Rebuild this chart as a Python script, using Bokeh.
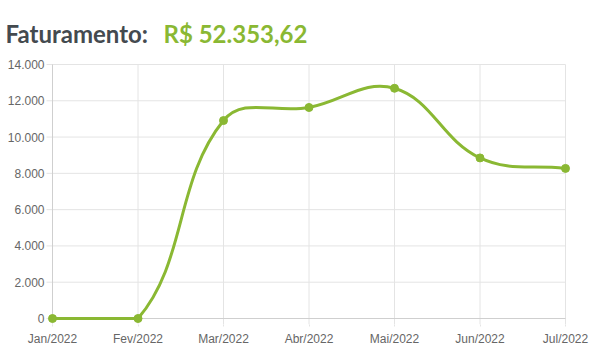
import numpy as np
from bokeh.plotting import figure
from bokeh.models import FixedTicker, Range1d, ColumnDataSource
from bokeh.core.properties import value
from bokeh.embed import file_html
from bokeh.resources import INLINE

months = ["Jan/2022", "Fev/2022", "Mar/2022", "Abr/2022", "Mai/2022", "Jun/2022", "Jul/2022"]
revenue = [0, 0, 10910, 11630, 12690, 8850, 8273.62]
y_ticks = [0, 2000, 4000, 6000, 8000, 10000, 12000, 14000]
y_tick_labels = ["0", "2.000", "4.000", "6.000", "8.000", "10.000", "12.000", "14.000"]
title_label = "Faturamento:"
total_label = "R$ 52.353,62"

GREEN = "#8ab833"
GRID = "#e4e4e4"
TXT = "#666666"

W, H = 614, 364
AL, AR, AT, AB = 52, 565, 64, 318   # chart area in page pixels
PAD = 6
ymax = 14000.0
nx = len(months) - 1
sx = (AR - AL) / nx
sy = (AB - AT) / ymax

def dx(cx):
    return (cx - AL) / sx

def dy(cy):
    return (AB - cy) / sy

# frame spans the page width and from the page top, so heading and y labels are glyphs
p = figure(width=W, height=H, output_backend="svg", toolbar_location=None,
           min_border_left=0, min_border_right=0,
           min_border_top=0, min_border_bottom=H - AB - PAD,
           x_range=Range1d(dx(0), dx(W)), y_range=Range1d(dy(AB + PAD), dy(0)))
p.outline_line_color = None
p.background_fill_color = "white"
p.border_fill_color = "white"

x = np.arange(len(months), dtype=float)
y = np.array(revenue, dtype=float)

# Chart.js-like spline (tension 0.4), computed in pixel space
fw = AR - AL
fh = AB - AT
px, py = x * sx, y * sy
n = len(px)
cp_prev = np.zeros((n, 2))
cp_next = np.zeros((n, 2))
t = 0.4
for i in range(n):
    pi = i - 1 if i > 0 else i
    ni = i + 1 if i < n - 1 else i
    d01 = np.hypot(px[i] - px[pi], py[i] - py[pi])
    d12 = np.hypot(px[ni] - px[i], py[ni] - py[i])
    tot = d01 + d12
    s01 = d01 / tot if tot else 0
    s12 = d12 / tot if tot else 0
    fa, fb = t * s01, t * s12
    cp_prev[i] = [px[i] - fa * (px[ni] - px[pi]), py[i] - fa * (py[ni] - py[pi])]
    cp_next[i] = [px[i] + fb * (px[ni] - px[pi]), py[i] + fb * (py[ni] - py[pi])]
cp_prev[:, 1] = np.clip(cp_prev[:, 1], 0, fh)
cp_next[:, 1] = np.clip(cp_next[:, 1], 0, fh)
cp_prev[:, 0] = np.clip(cp_prev[:, 0], 0, fw)
cp_next[:, 0] = np.clip(cp_next[:, 0], 0, fw)

src = ColumnDataSource(dict(
    x0=x[:-1], y0=y[:-1], x1=x[1:], y1=y[1:],
    cx0=cp_next[:-1, 0] / sx, cy0=cp_next[:-1, 1] / sy,
    cx1=cp_prev[1:, 0] / sx, cy1=cp_prev[1:, 1] / sy,
))

# grid (drawn as segments, bounded to the chart area plus short tick stubs)
p.xgrid.visible = False
p.ygrid.visible = False
yt = np.array(y_ticks, dtype=float)
p.segment(x0=x, y0=np.full(n, dy(AB + PAD)), x1=x, y1=np.full(n, ymax), line_color=GRID, line_width=1)
p.segment(x0=np.full(len(yt), dx(AL - 6)), y0=yt, x1=np.full(len(yt), nx), y1=yt,
          line_color=GRID, line_width=1)
p.segment(x0=[0], y0=[0], x1=[nx], y1=[0], line_color="#cfcfcf", line_width=1)
p.segment(x0=[0], y0=[0], x1=[0], y1=[ymax], line_color="#cfcfcf", line_width=1)

p.bezier(x0="x0", y0="y0", x1="x1", y1="y1", cx0="cx0", cy0="cy0", cx1="cx1", cy1="cy1",
         source=src, line_color=GREEN, line_width=3)
p.scatter(x, y, size=8, fill_color=GREEN, line_color=GREEN)

# x axis
p.yaxis.visible = False
p.xaxis.ticker = FixedTicker(ticks=list(range(len(months))))
p.xaxis.major_label_overrides = {i: m for i, m in enumerate(months)}
p.xaxis.axis_line_color = None
p.xaxis.major_tick_line_color = GRID
p.xaxis.major_tick_in = 0
p.xaxis.major_tick_out = 2
p.xaxis.minor_tick_line_color = None
p.xaxis.major_label_text_font = "Liberation Sans"
p.xaxis.major_label_text_font_size = "12px"
p.xaxis.major_label_text_color = TXT
p.xaxis.major_label_standoff = 5

# y tick labels
p.text(x=np.full(len(yt), dx(AL - 8)), y=yt, text=y_tick_labels, text_align="right",
       text_baseline="middle", text_font=value("Liberation Sans"), text_font_size="12px",
       text_color=TXT)

# heading
p.text(x=[dx(5)], y=[dy(33)], text=[title_label], text_baseline="middle",
       text_font=value("Lato"), text_font_style="bold", text_font_size="24px",
       text_color="#444a4f")
p.text(x=[dx(163)], y=[dy(33)], text=[total_label], text_baseline="middle",
       text_font=value("Lato"), text_font_style="bold", text_font_size="24px",
       text_color=GREEN)

open("out.html", "w").write(file_html(p, INLINE))
